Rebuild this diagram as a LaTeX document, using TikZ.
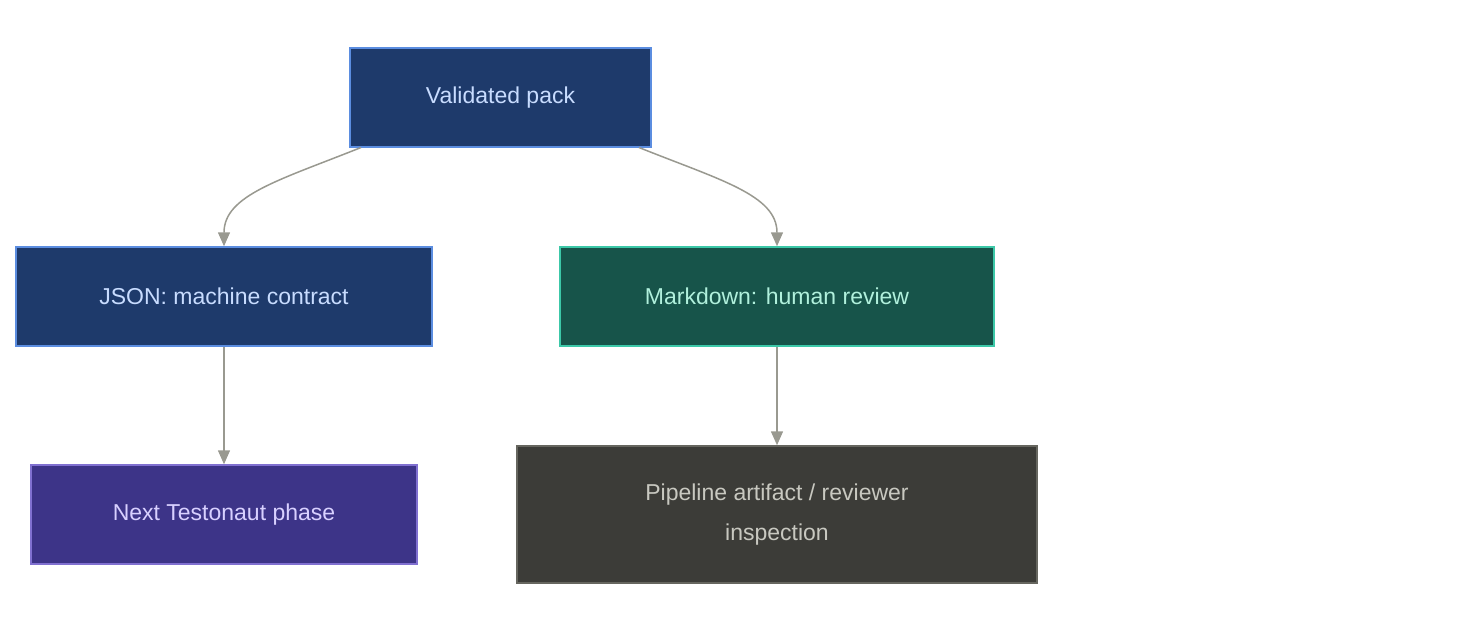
\documentclass[tikz,border=0pt]{standalone}
\usepackage{fontspec}
\setmainfont{Liberation Sans}
\usetikzlibrary{arrows.meta}
\definecolor{bfill}{HTML}{1E3A6B}\definecolor{bdraw}{HTML}{5B8DE0}\definecolor{btext}{HTML}{C8DCFF}
\definecolor{gfill}{HTML}{17544A}\definecolor{gdraw}{HTML}{3CC8A8}\definecolor{gtext}{HTML}{B0F0DC}
\definecolor{pfill}{HTML}{3D3488}\definecolor{pdraw}{HTML}{8070D0}\definecolor{ptext}{HTML}{D8D0FF}
\definecolor{dfill}{HTML}{3C3C38}\definecolor{ddraw}{HTML}{66665F}\definecolor{dtext}{HTML}{C8C8C0}
\definecolor{edge}{HTML}{999990}
\begin{document}
\begin{tikzpicture}[x=1pt,y=-1pt,
  box/.style={draw,line width=1.5pt,font=\fontsize{23}{40}\selectfont,align=center,inner sep=0},
  blue/.style={box,fill=bfill,draw=bdraw,text=btext},
  green/.style={box,fill=gfill,draw=gdraw,text=gtext},
  purple/.style={box,fill=pfill,draw=pdraw,text=ptext},
  dark/.style={box,fill=dfill,draw=ddraw,text=dtext},
  arr/.style={draw=edge,line width=1.5pt,-{Triangle[length=14pt,width=12pt]}}]
\useasboundingbox (0,0) rectangle (1472,632);
\node[blue,minimum width=301,minimum height=99] (vp) at (500.5,97.5) {Validated pack};
\node[blue,minimum width=416,minimum height=99] (json) at (224,296.5) {JSON: machine contract};
\node[green,minimum width=434,minimum height=99] (md) at (777,296.5) {Markdown: human review};
\node[purple,minimum width=386,minimum height=99] (nt) at (224,514.5) {Next Testonaut phase};
\node[dark,minimum width=520,minimum height=137] (pa) at (777,514.5) {Pipeline artifact / reviewer\\inspection};
\coordinate (a1) at (361,147.5);
\coordinate (a2) at (639,147.5);
\draw[arr] (a1) .. controls (280,180) and (224,195) .. (json.north);
\draw[arr] (a2) .. controls (720,180) and (777,195) .. (md.north);
\draw[arr] (json.south) -- (nt.north);
\draw[arr] (md.south) -- (pa.north);
\end{tikzpicture}
\end{document}
